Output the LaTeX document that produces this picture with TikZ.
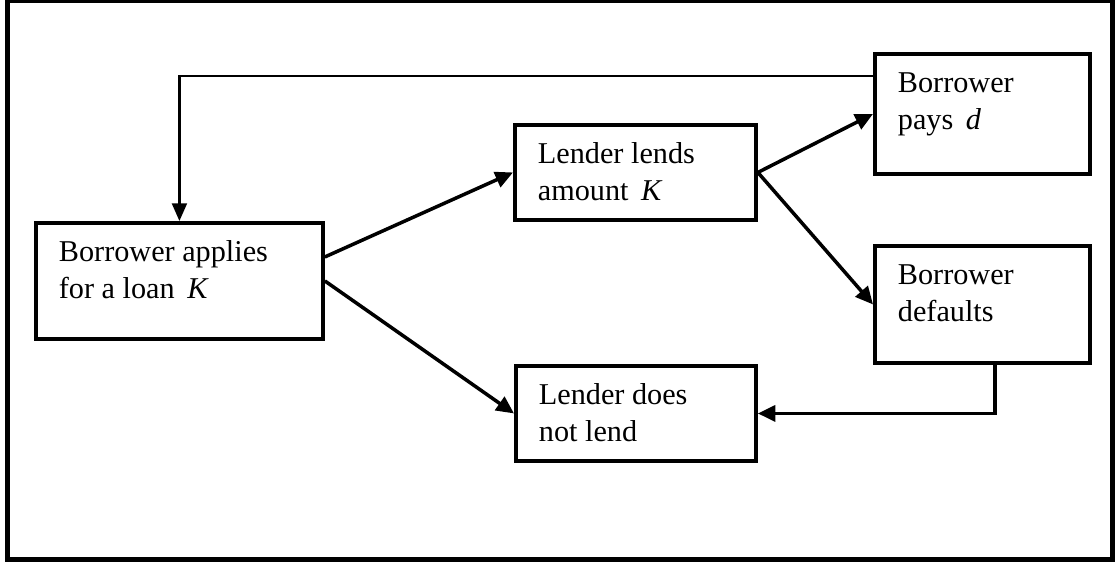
\documentclass[tikz,border=0pt]{standalone}
\usepackage{fontspec}
\setmainfont{Liberation Serif}
\usepackage{tikz}
\usetikzlibrary{arrows.meta}

\newcommand{\stagetext}[3]{\parbox[c][#2][t]{#1}{\strut #3}}

\begin{document}
\begin{tikzpicture}[
		stage/.style={draw, line width=1.1pt, anchor=north west, inner xsep=0.23cm, inner ysep=0.13cm, font=\fontsize{8.6pt}{10.5pt}\selectfont},
		move/.style={line width=1pt, -{Triangle[length=5pt,width=4.6pt]}},
		back/.style={line width=0.7pt, -{Triangle[length=5pt,width=4.2pt]}}
	]
		\useasboundingbox (0,0) rectangle (11.15,-5.62);
		\draw[line width=1.4pt] (0.075,-0.01) rectangle (11.125,-5.595);
		\node[stage] (apply) at (0.34,-2.21) {\stagetext{2.41cm}{0.9cm}{Borrower applies\\for a loan \,\textit{K}}};
		\node[stage] (lend) at (5.13,-1.23) {\stagetext{1.95cm}{0.69cm}{Lender lends\\amount \,\textit{K}}};
		\node[stage] (nolend) at (5.14,-3.64) {\stagetext{1.94cm}{0.69cm}{Lender does\\not lend}};
		\node[stage] (pays) at (8.73,-0.52) {\stagetext{1.69cm}{0.94cm}{Borrower\\pays \,\textit{d}}};
		\node[stage] (defaults) at (8.73,-2.44) {\stagetext{1.69cm}{0.91cm}{Borrower\\defaults}};
		\draw[move] ([yshift=0.24cm]apply.east) -- (lend.west);
		\draw[move] (apply.east) -- (nolend.west);
		\draw[move] (lend.east) -- (pays.west);
		\draw[move] (lend.east) -- (defaults.west);
		\draw[back] ([yshift=0.38cm]pays.west) -| (apply.north);
		\draw[line width=0.9pt, -{Triangle[length=5pt,width=4.6pt]}] ([xshift=0.125cm]defaults.south) |- (nolend.east);
	\end{tikzpicture}
\end{document}
